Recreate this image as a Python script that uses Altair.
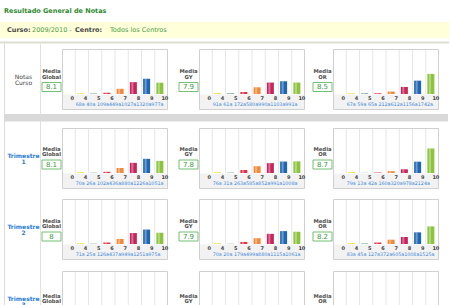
import altair as alt
import pandas as pd

# ---------------- data ----------------
title = "Resultado General de Notas"
curso_label = "Curso:"
curso_value = "2009/2010 -"
centro_label = "Centro:"
centro_value = "Todos los Centros"

categories = ["0", "4", "5", "6", "7", "8", "9", "10"]
bar_categories = ["4", "5", "6", "7", "8", "9", "10"]
bar_colors = ["#f0e04a", "#5f9a86", "#dc3448", "#f2883a", "#c8245c", "#1f66b4", "#8cc43e"]

row_titles = [["Notas", "Curso"], ["Trimestre", "1"], ["Trimestre", "2"], ["Trimestre", "3"]]
panel_titles = [["Media", "Global"], ["Media", "GY"], ["Media", "OR"]]

curso_global = [68, 40, 109, 449, 1027, 1320, 977]
curso_gy = [91, 61, 172, 580, 990, 1103, 991]
curso_or = [67, 59, 65, 212, 612, 1156, 1742]
t1_global = [70, 26, 102, 436, 880, 1226, 1051]
t1_gy = [76, 31, 263, 585, 852, 991, 1008]
t1_or = [79, 13, 42, 160, 320, 978, 2124]
t2_global = [71, 25, 126, 437, 949, 1251, 975]
t2_gy = [70, 20, 179, 499, 880, 1115, 1061]
t2_or = [83, 45, 127, 372, 605, 1008, 1525]

row_counts = [
    [curso_global, curso_gy, curso_or],
    [t1_global, t1_gy, t1_or],
    [t2_global, t2_gy, t2_or],
    [None, None, None],
]
row_means = [
    [8.1, 7.9, 8.5],
    [8.1, 7.8, 8.7],
    [8.0, 7.9, 8.2],
    [None, None, None],
]

# ---------------- layout / style ----------------
FONT = "DejaVu Sans"
ROW_LABEL_W = 40
LABEL_W = [22, 31, 28]
FRAME_W = 106
COL_W = [ROW_LABEL_W, LABEL_W[0], FRAME_W, LABEL_W[1], FRAME_W, LABEL_W[2], FRAME_W]
HEADER_H = 46
FRAME_H = 61
PLOT_H = 45
Y_MAX = 3900
ROW_H = [61, 61, 61, 37]
GAPS = [18, 10, 11]
MEDIA_DY = [0.5, -1.0, 0, 3]

GREEN = "#3a983a"
TITLE_GREEN = "#2f8a2f"
BLUE = "#2a7dd1"
COUNT_BLUE = "#3a86d8"
BORDER1 = "#dcdcd2"
BORDER2 = "#e2e2da"


def one():
    return pd.DataFrame({"k": [0]})


def text_layer(txt, x, y, size, color, bold=False, align="center"):
    return alt.Chart(pd.DataFrame({"t": [txt]})).mark_text(
        align=align, baseline="middle", fontSize=size, font=FONT,
        fontWeight="bold" if bold else "normal", color=color
    ).encode(x=alt.value(x), y=alt.value(y), text="t:N")


def rect_layer(x, x2, y, y2, fill, stroke=None, sw=1, clip=False):
    kw = dict(fill=fill)
    if stroke:
        kw.update(stroke=stroke, strokeWidth=sw)
    if clip:
        kw.update(clip=True)
    return alt.Chart(one()).mark_rect(**kw).encode(
        x=alt.value(x), x2=alt.value(x2), y=alt.value(y), y2=alt.value(y2))


def vrule(x, y, y2, color, sw=1):
    return alt.Chart(one()).mark_rule(color=color, strokeWidth=sw).encode(
        x=alt.value(x), y=alt.value(y), y2=alt.value(y2))


def table_lines(h):
    return [vrule(4.5, 0, h, BORDER1), vrule(40.5, 0, h, BORDER2)]


def blank(w, h):
    return alt.Chart(one()).mark_point(opacity=0).encode(
        x=alt.value(0), y=alt.value(0)).properties(width=w, height=h)


# ---------------- header (first grid cell, drawn across the page) ----------------
header = alt.layer(
    text_layer(title, 4, 7.5, 6.5, TITLE_GREEN, bold=True, align="left"),
    rect_layer(0, 449, 19, 35, "#ffffd9"),
    text_layer(curso_label, 7, 26.8, 6.5, "#474747", bold=True, align="left"),
    text_layer(curso_value, 32, 26.8, 6.5, "#4aa04a", align="left"),
    text_layer(centro_label, 75, 26.8, 6.5, "#474747", bold=True, align="left"),
    text_layer(centro_value, 110, 26.8, 6.5, "#4aa04a", align="left"),
    rect_layer(0, 449, 38.5, 40.5, "#deddd3"),
    vrule(4.5, 40.5, HEADER_H, BORDER1),
    vrule(40.5, 40.5, HEADER_H, BORDER2),
).properties(width=ROW_LABEL_W, height=HEADER_H)

x_scale = alt.Scale(domain=categories, paddingInner=0, paddingOuter=0)
y_scale = alt.Scale(domain=[0, Y_MAX], range=[PLOT_H, 0])


def frame_chart(counts, height):
    layers = [rect_layer(0.5, FRAME_W - 0.5, 0.5, FRAME_H - 0.5, "white", "#d0d0d0", clip=True)]
    grid = alt.Chart(pd.DataFrame({"cat": categories[1:]})).mark_rule(
        color="#e6e6e6", strokeWidth=1
    ).encode(
        x=alt.X("cat:N", scale=x_scale, axis=None, bandPosition=0),
        y=alt.value(1), y2=alt.value(PLOT_H))
    if counts is None:
        layers.append(grid)
        return alt.layer(*layers).properties(width=FRAME_W, height=height)
    layers.append(rect_layer(1, FRAME_W - 1, PLOT_H + 0.5, FRAME_H - 1, "#f2f2f2"))
    layers.append(grid)
    df = pd.DataFrame({"cat": bar_categories, "v": counts})
    bars = alt.Chart(df).mark_bar(size=7, xOffset=-1.5).encode(
        x=alt.X("cat:N", scale=x_scale, axis=None),
        y=alt.Y("v:Q", scale=y_scale, axis=None),
        color=alt.Color("cat:N", scale=alt.Scale(domain=bar_categories, range=bar_colors), legend=None))
    hl = alt.Chart(df).mark_bar(size=2, xOffset=-2.5, color="white", opacity=0.35).encode(
        x=alt.X("cat:N", scale=x_scale, axis=None),
        y=alt.Y("v:Q", scale=y_scale, axis=None))
    labels = alt.Chart(pd.DataFrame({"cat": categories})).mark_text(
        dx=3.5, fontSize=5, fontWeight="bold", color="#444444", font=FONT, baseline="middle"
    ).encode(x=alt.X("cat:N", scale=x_scale, axis=None), y=alt.value(48.5), text="cat:N")
    count_text = "".join(f"{v}a".ljust(4) for v in counts)
    cnt = alt.Chart(pd.DataFrame({"cat": [bar_categories[0]], "t": [count_text]})).mark_text(
        align="left", baseline="middle", fontSize=4.8, color=COUNT_BLUE, font=FONT, dx=0.5
    ).encode(x=alt.X("cat:N", scale=x_scale, axis=None, bandPosition=0), y=alt.value(56), text="t:N")
    layers += [bars, hl, labels, cnt]
    return alt.layer(*layers).properties(width=FRAME_W, height=height)


def label_chart(i, j, height):
    W = LABEL_W[j]
    cx = W - 10.5
    dy = MEDIA_DY[i]
    l1, l2 = panel_titles[j]
    layers = [
        text_layer(l1, cx, 21.5 + dy, 5.3, "#4d4d4d", bold=True),
        text_layer(l2, cx, 27 + dy, 5.3, "#4d4d4d", bold=True),
        rect_layer(W - 20, W - 1, 33 + dy, 42 + dy, "white", "#74c074", clip=True),
    ]
    m = row_means[i][j]
    if m is not None:
        layers.append(text_layer(f"{m:g}", cx, 37.8 + dy, 7, GREEN))
    return alt.layer(*layers).properties(width=W, height=height)


def rowlabel_chart(i, height):
    l1, l2 = row_titles[i]
    if i == 0:
        color, bold = "#444444", False
    else:
        color, bold = BLUE, True
    return alt.layer(
        *table_lines(height),
        text_layer(l1, 23.5, 27.8, 6, color, bold),
        text_layer(l2, 23.5, 33.6, 6, color, bold),
    ).properties(width=ROW_LABEL_W, height=height)


def gap_row(h, band=False):
    layers = table_lines(h)
    if band:
        layers.append(rect_layer(4, 448, 4, 11.5, "#d9d9d9"))
    cells = [alt.layer(*layers).properties(width=ROW_LABEL_W, height=h)]
    cells += [blank(w, h) for w in COL_W[1:]]
    return cells


cells = [header] + [blank(w, HEADER_H) for w in COL_W[1:]]
for i in range(4):
    h = ROW_H[i]
    cells.append(rowlabel_chart(i, h))
    for j in range(3):
        cells.append(label_chart(i, j, h))
        cells.append(frame_chart(row_counts[i][j], h))
    if i < 3:
        cells += gap_row(GAPS[i], band=(i == 0))

chart = alt.concat(
    *cells, columns=7, spacing=0, bounds="flush", align="each"
).properties(padding=0).configure_view(strokeWidth=0).configure_concat(spacing=0)

chart.save("out.html", embed_options={"renderer": "svg", "actions": False})
